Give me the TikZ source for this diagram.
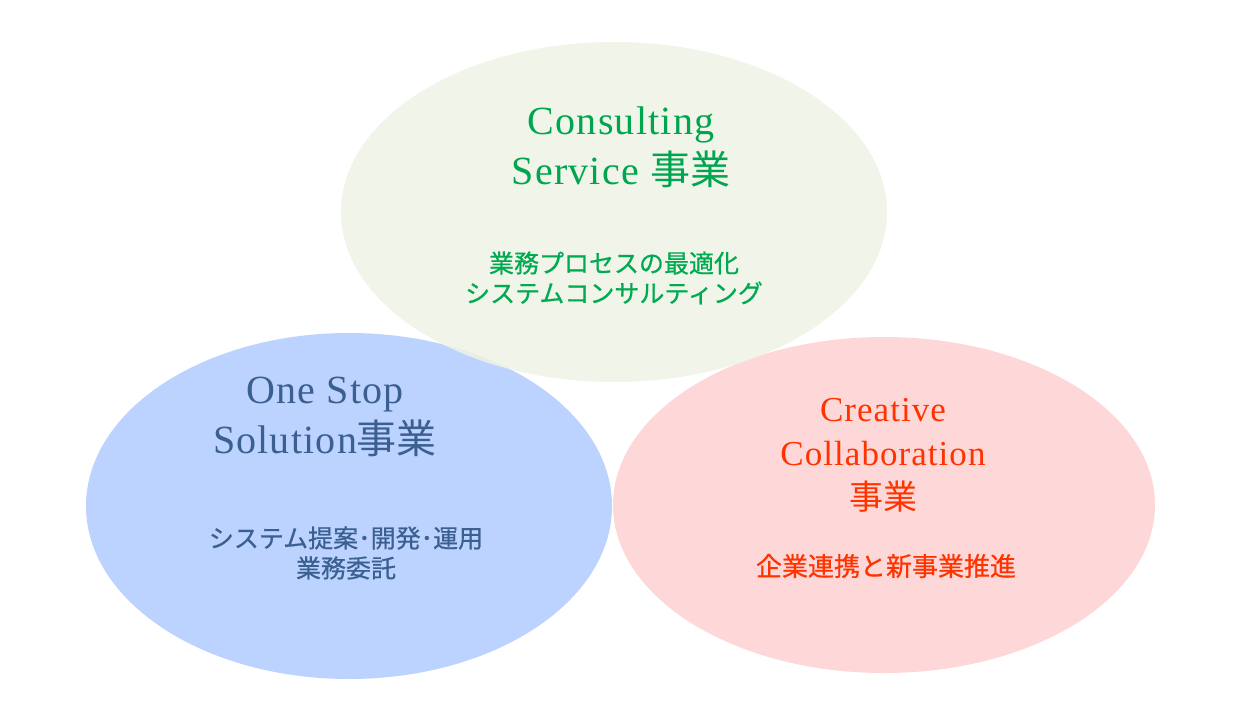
\documentclass[tikz,border=0pt]{standalone}
\usepackage{fontspec}
\setmainfont{Liberation Serif}[LetterSpace=3]
\newfontfamily\cjk{Noto Sans CJK JP}
\newfontfamily\cjkb{Noto Sans CJK JP}[FakeBold=0.6]
\definecolor{topfill}{HTML}{EFF3E5}
\definecolor{leftfill}{HTML}{BDD3FF}
\definecolor{rightfill}{HTML}{FED8D8}
\definecolor{greentxt}{HTML}{00A64F}
\definecolor{greensub}{HTML}{00AA50}
\definecolor{bluetxt}{HTML}{3A5F90}
\definecolor{redtxt}{HTML}{FF3300}
\tikzset{
  title/.style={font=\fontsize{40}{50}\selectfont, align=center, inner sep=0pt},
  sub/.style={font=\cjkb\fontsize{25}{30}\selectfont, align=center, inner sep=0pt},
}
\begin{document}
\begin{tikzpicture}[x=1pt,y=-1pt]
\useasboundingbox (0,0) rectangle (1250,703);
\fill[white] (0,0) rectangle (1250,703);
% ellipses
\fill[leftfill] (349,506) ellipse [x radius=263, y radius=173];
\fill[rightfill] (884,505) ellipse [x radius=271, y radius=168];
\fill[topfill, fill opacity=0.85] (614,212) ellipse [x radius=273, y radius=170];
% top texts
\node[title, text=greentxt] (ctitle) at (621,147) {Consulting\\Service {\cjk\fontsize{40}{50}\selectfont 事業}};
\node[sub, text=greensub] (csub) at (614,278) {業務プロセスの最適化\\システムコンサルティング};
% left texts
\node[title, text=bluetxt] (otitle) at (325,417) {One Stop\\Solution{\cjk\fontsize{40}{50}\selectfont 事業}};
\node[sub, text=bluetxt] (osub) at (346,553) {システム提案･開発･運用\\業務委託};
% right texts
\node[title, text=redtxt, font=\fontsize{35}{44}\selectfont] (rtitle) at (883,455) {Creative\\Collaboration\\{\cjk\fontsize{34}{44}\selectfont 事業}};
\node[sub, text=redtxt, font=\cjkb\fontsize{26}{30}\selectfont] (rsub) at (886,566) {企業連携と新事業推進};
\end{tikzpicture}
\end{document}
